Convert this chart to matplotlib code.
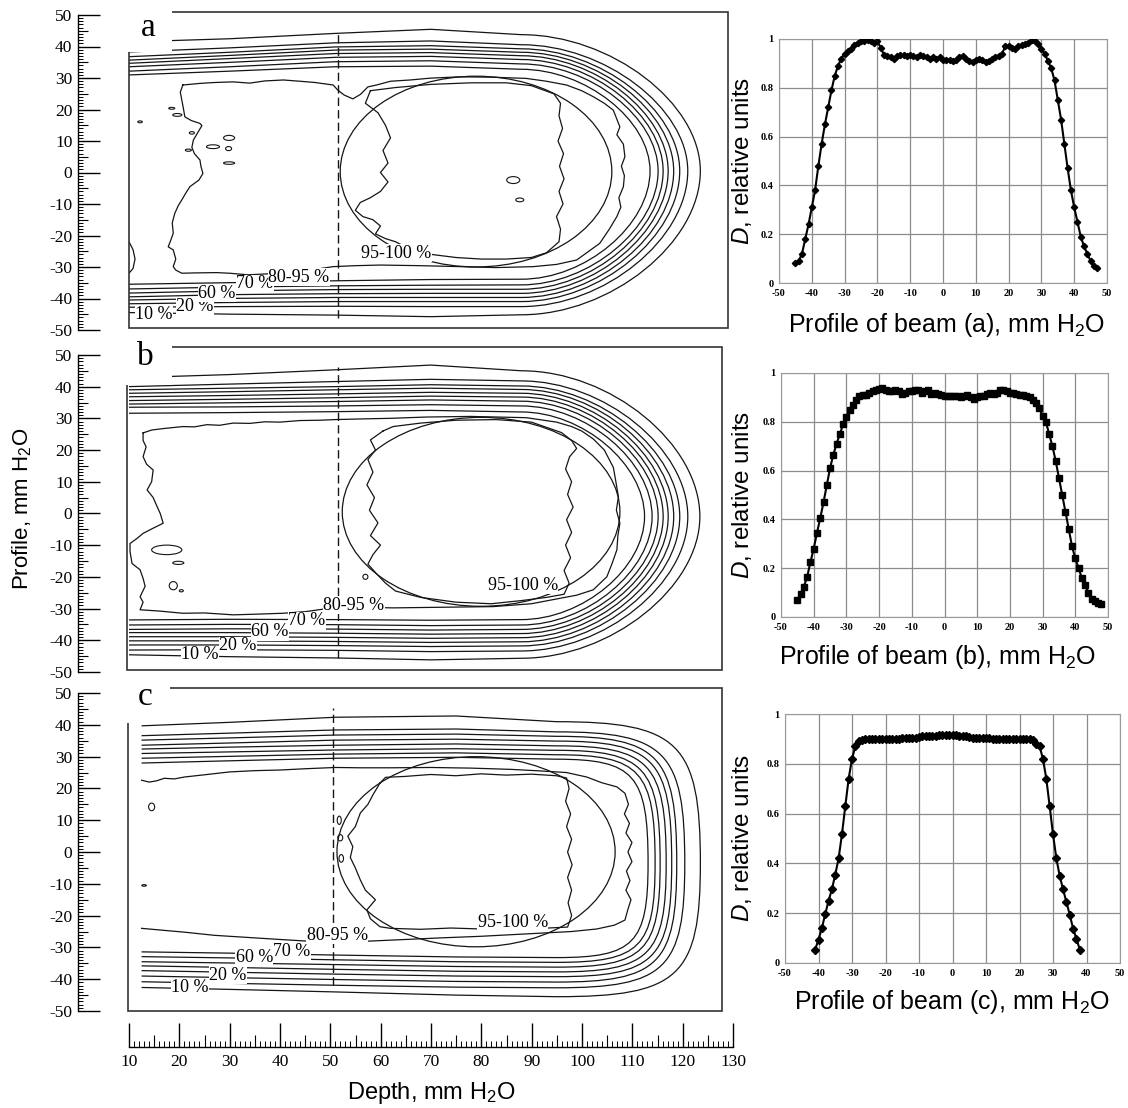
import numpy as np
import matplotlib
matplotlib.use("Agg")
import matplotlib.pyplot as plt
from matplotlib.path import Path
from matplotlib.patches import PathPatch, Ellipse, Rectangle
from matplotlib.ticker import MultipleLocator

plt.rcParams["font.family"] = "Liberation Sans"
plt.rcParams["mathtext.fontset"] = "custom"
plt.rcParams["mathtext.rm"] = "Liberation Sans"
plt.rcParams["mathtext.it"] = "Liberation Sans:italic"
plt.rcParams["axes.unicode_minus"] = False

SERIF = "Liberation Serif"
W, H = 1128, 1108

# ---------------- beam profiles (right column) ----------------
prof_a_x = np.arange(-45, 48)
prof_a_y = [0.08, 0.09, 0.12, 0.18, 0.24, 0.31, 0.38, 0.48, 0.57, 0.65,
            0.72, 0.79, 0.85, 0.89, 0.92, 0.94, 0.95, 0.96, 0.975, 0.985,
            0.99, 0.99, 0.995, 0.99, 0.985, 0.99, 0.965, 0.935, 0.93, 0.925,
            0.92, 0.93, 0.935, 0.935, 0.93, 0.935, 0.93, 0.925, 0.935, 0.93,
            0.925, 0.92, 0.925, 0.92, 0.925, 0.915, 0.915, 0.915, 0.91, 0.915,
            0.925, 0.93, 0.92, 0.91, 0.905, 0.915, 0.92, 0.915, 0.905, 0.91,
            0.92, 0.925, 0.93, 0.94, 0.97, 0.97, 0.965, 0.96, 0.97, 0.975,
            0.98, 0.985, 0.995, 0.99, 0.98, 0.96, 0.94, 0.91, 0.88, 0.83,
            0.75, 0.67, 0.57, 0.47, 0.38, 0.31, 0.25, 0.19, 0.15, 0.12,
            0.09, 0.07, 0.06]

prof_b_x = np.arange(-45, 49)
prof_b_y = [0.07, 0.095, 0.125, 0.165, 0.225, 0.28, 0.345, 0.405, 0.47, 0.54,
            0.61, 0.665, 0.71, 0.75, 0.79, 0.82, 0.85, 0.87, 0.89, 0.905,
            0.91, 0.91, 0.92, 0.925, 0.93, 0.935, 0.94, 0.93, 0.925, 0.925,
            0.93, 0.925, 0.915, 0.92, 0.925, 0.925, 0.93, 0.93, 0.92, 0.925,
            0.93, 0.915, 0.92, 0.915, 0.91, 0.905, 0.905, 0.905, 0.905, 0.905,
            0.90, 0.905, 0.91, 0.90, 0.895, 0.90, 0.905, 0.905, 0.915, 0.92,
            0.915, 0.92, 0.93, 0.93, 0.925, 0.92, 0.92, 0.915, 0.91, 0.91,
            0.905, 0.90, 0.89, 0.875, 0.855, 0.825, 0.80, 0.75, 0.70, 0.64,
            0.57, 0.50, 0.43, 0.36, 0.29, 0.24, 0.20, 0.16, 0.13, 0.10,
            0.075, 0.065, 0.058, 0.052]

prof_c_x = np.arange(-41, 39)
prof_c_y = [0.054, 0.094, 0.14, 0.196, 0.25, 0.296, 0.355, 0.42, 0.517, 0.63,
            0.74, 0.82, 0.87, 0.89, 0.895, 0.90, 0.90, 0.90, 0.90, 0.90,
            0.90, 0.90, 0.90, 0.90, 0.90, 0.90, 0.905, 0.905, 0.905, 0.905,
            0.905, 0.908, 0.91, 0.91, 0.91, 0.912, 0.912, 0.915, 0.915, 0.915,
            0.915, 0.915, 0.915, 0.912, 0.91, 0.91, 0.908, 0.905, 0.905, 0.905,
            0.905, 0.902, 0.902, 0.90, 0.90, 0.90, 0.90, 0.90, 0.90, 0.90,
            0.90, 0.90, 0.90, 0.90, 0.90, 0.895, 0.88, 0.87, 0.82, 0.74,
            0.63, 0.517, 0.42, 0.35, 0.296, 0.245, 0.194, 0.138, 0.097, 0.054]

prof_xticks = [-50, -40, -30, -20, -10, 0, 10, 20, 30, 40, 50]
prof_yticks = [0, 0.2, 0.4, 0.6, 0.8, 1.0]
prof_yticklabels = ["0", "0.2", "0.4", "0.6", "0.8", "1"]

# ---------------- isodose maps (left column) ----------------
# smooth isodose lines: profile (mm) of upper / lower edge at a few depths,
# then the depth and profile where each line turns round at the far end
a_stations = [10, 30, 51, 70, 88]
a_top = [[41.5, 42.5, 44.2, 45.5, 43.8],
         [38.3, 39.6, 41.2, 41.8, 40.6],
         [36.8, 38.2, 39.9, 40.3, 39.3],
         [35.7, 37.2, 38.9, 39.2, 38.2],
         [34.7, 36.2, 37.8, 38.1, 37.1],
         [33.6, 35.0, 36.6, 36.9, 35.9],
         [32.2, 33.6, 35.2, 35.5, 34.5],
         [31.0, 32.2, 33.6, 33.8, 32.8]]
a_bot = [[-44.5, -45.0, -45.3, -45.8, -45.2],
         [-42.8, -42.6, -42.5, -42.6, -42.6],
         [-41.7, -41.3, -41.0, -41.0, -41.0],
         [-40.5, -40.0, -39.7, -39.7, -39.7],
         [-39.5, -38.8, -38.5, -38.4, -38.4],
         [-38.3, -37.6, -37.2, -37.1, -37.1],
         [-37.0, -36.4, -36.0, -35.8, -35.7],
         [-35.5, -35.0, -34.4, -34.0, -33.9]]
a_tip_x = [123.6, 121.1, 119.5, 118.3, 117.2, 116.2, 115.2, 113.6]
a_tip_y = [0.5, 0.5, 0.5, 0.5, 0.5, 0.5, 0.5, 0.5]

b_stations = [10, 30, 51, 70, 88]
b_top = [[42.8, 43.8, 45.3, 46.8, 45.0],
         [40.0, 40.8, 41.6, 42.3, 41.8],
         [39.0, 39.5, 40.0, 40.6, 40.2],
         [37.9, 38.4, 39.0, 39.5, 39.1],
         [36.8, 37.2, 37.7, 38.2, 37.9],
         [35.6, 36.0, 36.5, 37.0, 36.7],
         [34.5, 34.9, 35.3, 35.8, 35.4],
         [33.5, 33.6, 33.9, 34.3, 33.9],
         [31.6, 31.8, 32.1, 32.5, 32.0]]
b_bot = [[-44.6, -45.2, -45.6, -46.2, -45.7],
         [-43.1, -43.0, -43.2, -43.6, -43.4],
         [-41.5, -41.5, -41.7, -42.0, -41.8],
         [-40.2, -40.2, -40.4, -40.7, -40.5],
         [-38.9, -38.9, -39.1, -39.4, -39.2],
         [-37.6, -37.6, -37.8, -38.1, -37.9],
         [-36.6, -36.4, -36.5, -36.8, -36.6],
         [-35.2, -35.0, -35.1, -35.4, -35.2],
         [-33.6, -33.4, -33.5, -33.7, -33.5]]
b_tip_x = [123.5, 121.1, 119.5, 118.3, 117.2, 116.2, 115.2, 114.0, 112.5]
b_tip_y = [-1.0, -1.0, -1.0, -1.0, -1.0, -1.0, -1.0, -1.0, -1.0]

c_stations = [12.5, 30, 51, 75, 95]
c_top = [[39.7, 40.8, 42.4, 42.8, 41.0],
         [36.6, 37.4, 38.4, 38.7, 37.8],
         [35.2, 35.9, 36.8, 37.1, 36.4],
         [33.6, 34.3, 35.2, 35.5, 34.9],
         [32.4, 33.0, 33.6, 34.0, 33.4],
         [31.0, 31.5, 32.1, 32.5, 32.0],
         [29.5, 30.1, 30.8, 31.2, 30.6],
         [28.0, 28.7, 29.5, 29.8, 29.2]]
c_bot = [[-42.6, -43.2, -44.0, -45.0, -45.5],
         [-40.8, -41.3, -41.9, -42.5, -42.7],
         [-39.0, -39.5, -40.1, -40.7, -40.9],
         [-37.3, -37.8, -38.4, -39.0, -39.2],
         [-35.8, -36.3, -36.9, -37.5, -37.7],
         [-34.5, -34.9, -35.4, -36.0, -36.2],
         [-32.9, -33.3, -33.9, -34.5, -34.7],
         [-31.4, -31.8, -32.4, -33.0, -33.2]]
c_tip_x = [123.6, 120.5, 118.9, 117.9, 116.8, 115.6, 114.6, 113.2]
c_tip_y = [-3.5, -3.5, -3.5, -3.5, -3.5, -3.5, -3.5, -3.5]

# irregular high-dose isodoses (depth, profile)
a_outer = [(20.7, 27.8), (24, 28.3), (27, 28.6), (30.7, 28.8), (34, 28.4), (37, 29.1),
           (40.7, 29.4), (44, 29.0), (47, 28.6), (50.6, 27.8), (51.5, 26.2), (52.8, 24.6),
           (54.5, 23.4), (56.0, 24.8), (57.5, 27.2), (59.2, 27.8), (62, 29.0), (65.9, 29.4),
           (70, 30.0), (75.8, 30.4), (82, 30.3), (89, 29.9), (93, 29.0), (97, 27.8),
           (100, 26.0), (102.3, 24.1), (104.5, 22.0), (106.3, 19.8), (107.6, 14.5),
           (107.0, 12.0), (108.3, 9.0), (108.6, 5.0), (107.9, 2.0), (108.5, -1.0),
           (108.3, -4.5), (107.4, -8.0), (107.8, -11.0), (107.0, -14.0), (105.5, -18.0),
           (103.6, -22.5), (101, -25.5), (99, -27.8), (95, -29.2), (90.4, -29.9),
           (83, -30.2), (75.8, -29.9), (68, -29.6), (60, -29.4), (55, -29.6), (50.6, -29.9),
           (46, -31.0), (40, -32.0), (33.7, -32.5), (30, -32.0), (27.4, -31.8), (23, -31.9),
           (20.5, -32.0), (19.3, -31.0), (18.8, -29.9), (19.3, -27.5), (18.8, -24.6),
           (17.8, -23.6), (18.3, -21.5), (18.8, -19.3), (18.6, -16.0), (19.1, -13.0),
           (19.8, -10.5), (20.5, -8.7), (21.3, -6.5), (22.1, -4.5), (23.9, -2.4),
           (24.7, -0.3), (24.3, 2.0), (24.1, 4.0), (23.0, 6.0), (22.5, 8.0), (22.8, 10.3),
           (23.6, 12.5), (24.5, 14.9), (24.1, 15.6), (22.4, 16.5), (21.1, 17.7),
           (20.8, 20.5), (20.5, 23.0), (20.2, 25.5), (20.7, 27.8)]
a_inner = [(58, 26), (57, 22), (59.5, 19), (61, 15), (62, 11), (60.5, 7), (61.5, 3),
           (60, 0), (61.5, -3), (60, -6), (58, -8), (56, -9.5), (55, -12), (56.5, -14),
           (58.5, -15), (60, -17), (59, -19.5), (61, -21), (63, -22), (66, -24.5),
           (70, -26), (75, -27), (80, -27.5), (85, -27.5), (90, -27), (93, -25.5),
           (95.5, -22), (95.8, -18), (95, -14), (96.3, -10), (95.5, -6), (96.5, -2),
           (95.6, 2), (96.4, 6), (95.3, 10), (96.2, 14), (95.5, 18), (95.8, 22),
           (94.5, 25), (90, 27.6), (85, 28.5), (78, 28.5), (70, 28), (63, 27), (58, 26)]
a_edge = [(10.0, -22.0), (10.8, -24.5), (11.2, -27.5), (10.8, -30.5), (10.0, -32.0)]
a_islands = [(18.5, 20.4, 1.2, 0.6), (19.6, 18.3, 1.8, 0.9), (22.5, 12.6, 1.0, 0.8),
             (21.8, 7.1, 1.2, 0.7), (26.7, 8.2, 2.6, 1.2), (29.9, 11.0, 2.2, 1.6),
             (29.8, 7.6, 1.2, 1.3), (29.9, 3.0, 2.2, 0.8), (12.2, 16.1, 0.9, 0.6),
             (86.4, -2.4, 2.6, 2.2), (87.7, -8.7, 1.6, 1.2)]

b_outer = [(12.8, 25.4), (14.5, 26.3), (17, 26.8), (20.7, 27.4), (23, 27.3), (25.5, 28.0),
           (28, 27.8), (30.7, 28.5), (34, 28.4), (37, 28.9), (40, 28.8), (44, 29.3),
           (48, 29.4), (51, 29.6), (56, 29.8), (62, 30.0), (69, 30.4), (77.8, 30.6),
           (89, 30.2), (95, 28.8), (98, 27.4), (100, 26.0), (102.3, 23.5), (104.5, 20.0),
           (106.3, 14.5), (106.8, 10.0), (107.3, 5.3), (106.9, 1.0), (107.6, -3.1),
           (107.2, -7.0), (107.0, -11.5), (106.0, -16.0), (105.0, -20.0), (102.3, -24.1),
           (99, -25.8), (96.3, -26.6), (90, -28.5), (82.4, -29.4), (72.5, -29.6),
           (62.6, -29.8), (55, -29.6), (50, -29.9), (45, -31.0), (40.6, -31.5),
           (35, -31.8), (30.7, -32.0), (25, -31.4), (20.7, -31.5), (16, -30.8),
           (12.2, -30.4), (12.8, -28.0), (12.2, -26.3), (13.2, -23.0), (12.8, -20.5),
           (12.2, -17.8), (10.6, -15.8), (10.2, -12.0), (10.2, -9.5), (11.5, -8.0),
           (12.8, -6.3), (15.0, -4.5), (16.8, -3.1), (16.2, 0.0), (15.6, 2.1),
           (14.8, 5.0), (13.6, 7.4), (14.5, 10.0), (14.8, 13.7), (13.5, 15.5),
           (12.8, 17.9), (13.4, 21.0), (12.8, 23.0), (12.8, 25.4)]
b_inner = [(60.5, 26), (58, 23.2), (59, 20), (57.5, 17), (58.5, 13), (57.3, 9),
           (58.8, 5), (57.8, 1), (59.5, -3), (58, -7), (60, -10), (58.5, -13),
           (57.5, -16), (59.2, -19), (61, -22), (63, -24.5), (68, -26.5), (75, -28),
           (82, -28.5), (88, -27.5), (93, -26.5), (96.5, -25.5), (97.5, -22),
           (96.5, -18), (97.8, -14), (96.8, -10), (98, -6), (97, -2), (98.3, 2),
           (97.2, 6), (98, 10), (96.8, 14), (97.6, 17.9), (99, 20.5), (98, 23),
           (96, 25.5), (90, 28.8), (83, 29.6), (75, 29.4), (68, 28.5), (62.5, 27.4),
           (60.5, 26)]
b_edge = []
b_islands = [(17.5, -11.5, 6.0, 3.0), (19.8, -15.6, 2.2, 1.0), (18.8, -22.8, 1.6, 2.6),
             (20.4, -24.4, 0.8, 0.7), (57.0, -20.0, 1.0, 1.6)]

c_outer = [(12.5, 22.6), (14, 22.0), (15.5, 22.4), (17, 23.2), (19, 23.0), (21, 23.6),
           (25, 24.3), (30, 25.2), (35, 25.6), (40, 25.8), (45, 26.2), (51, 26.6),
           (56, 26.5), (62, 26.5), (70, 26.6), (78, 26.4), (86, 26.0), (92, 25.5),
           (97, 25.0), (101, 23.6), (104, 21.8), (107, 20.5), (108.6, 18.5), (109.3, 15),
           (108.5, 12), (109.5, 9), (108.8, 6), (110, 3), (109.2, 0), (110, -3),
           (108.9, -6), (109.6, -9), (108.8, -12), (109.8, -15), (109.2, -18),
           (108.6, -21.4), (106.5, -23), (103, -24.2), (98, -25), (92, -25.5),
           (86, -26.0), (80, -26.5), (72, -27.0), (65, -27.5), (58, -28.0), (51, -28.2),
           (47.3, -28.2), (40, -27.5), (33, -26.8), (27, -26.2), (21, -25.2),
           (16, -24.5), (12.5, -24.0)]
c_inner = [(59.9, 21.7), (61, 23.5), (65, 23.8), (70, 24.4), (75, 24.0), (80, 24.6),
           (85, 24.2), (90, 24.5), (95, 24.0), (97, 23.3), (97.5, 20), (96.8, 16),
           (97.8, 12), (97, 8), (98, 4), (97.2, 0), (98.1, -4), (97.2, -8), (98, -12),
           (97.3, -16), (98, -20), (97.2, -23.6), (92, -24), (86, -23.8), (80, -24.2),
           (74, -23.9), (68, -24.3), (62, -24), (59.9, -23.5), (58, -21), (57.3, -18.2),
           (59, -15), (57, -12), (56, -8.8), (55, -5), (54, -1.7), (54.5, 1.7),
           (53.5, 5), (55, 8), (56, 12.3), (57.5, 15), (58.5, 18), (59.9, 21.7)]
c_edge = []
c_islands = [(14.5, 14.2, 1.2, 2.4), (13.0, -10.5, 0.9, 0.5), (51.8, 10.0, 0.8, 2.6),
             (52.0, 4.5, 1.0, 2.0), (52.2, -2.0, 0.9, 2.4)]

# target ellipse: centre depth, centre profile, width, height
a_target = (79.0, 0.3, 54.0, 60.6)
b_target = (80.0, 0.5, 55.2, 59.6)
c_target = (79.0, 0.1, 55.3, 59.8)

# dashed line: depth, lower and upper profile
a_dash = (51.5, -46.3, 44.5)
b_dash = (51.5, -45.6, 46.2)
c_dash = (50.6, -41.8, 45.3)

# isodose labels: text, depth, profile
a_labels = [("10 %", 15.0, -45.2), ("20 %", 23.1, -42.7), ("60 %", 27.5, -38.3),
            ("70 %", 35.0, -35.4), ("80-95 %", 43.8, -33.2), ("95-100 %", 63.1, -25.6)]
b_labels = [("10 %", 24.1, -44.6), ("20 %", 31.7, -41.8), ("60 %", 38.0, -37.4),
            ("70 %", 45.4, -33.9), ("80-95 %", 54.7, -28.9), ("95-100 %", 88.3, -22.6)]
c_labels = [("10 %", 22.1, -42.5), ("20 %", 29.7, -38.7), ("60 %", 34.9, -33.3),
            ("70 %", 42.4, -31.4), ("80-95 %", 51.4, -26.1), ("95-100 %", 86.3, -22.3)]

ruler_y_mid = [-45, -35, -25, -15, -5, 5, 15, 25, 35, 45]
ruler_x_mid = [15, 25, 35, 45, 55, 65, 75, 85, 95, 105, 115, 125]


def px_rect(left, top, right, bottom):
    return [left / W, 1 - bottom / H, (right - left) / W, (bottom - top) / H]


def iso_path(stations, top, bot, tip_x, tip_y, k):
    # upper edge, rounded far end (two cubic curves), lower edge back
    verts = list(zip(stations, top))
    codes = [Path.MOVETO] + [Path.LINETO] * (len(stations) - 1)
    x0, y0 = stations[-1], top[-1]
    x1, y1 = stations[-1], bot[-1]
    verts += [(x0 + k * (tip_x - x0), y0), (tip_x, tip_y + k * (y0 - tip_y)), (tip_x, tip_y),
              (tip_x, tip_y + k * (y1 - tip_y)), (x1 + k * (tip_x - x1), y1), (x1, y1)]
    codes += [Path.CURVE4] * 6
    verts += list(zip(stations[-2::-1], bot[-2::-1]))
    codes += [Path.LINETO] * (len(stations) - 1)
    return Path(verts, codes)


def iso_panel(fig, rect, xlim, ylim, stations, top, bot, tip_x, tip_y, k,
              outer, inner, edge, islands, target, dash, labels, letter, corner):
    ax = fig.add_axes(rect)
    ax.set_xlim(*xlim)
    ax.set_ylim(*ylim)
    ax.axis("off")
    lw = 0.9
    col = "#151515"

    for t, b, tx, ty in zip(top, bot, tip_x, tip_y):
        ax.add_patch(PathPatch(iso_path(stations, t, b, tx, ty, k),
                               fill=False, ec=col, lw=lw))
    for line in (outer, inner, edge):
        if line:
            xs, ys = zip(*line)
            ax.plot(xs, ys, color=col, lw=lw)
    for cx, cy, w, h in islands:
        ax.add_patch(Ellipse((cx, cy), w, h, fill=False, ec=col, lw=0.8))

    cx, cy, w, h = target
    ax.add_patch(Ellipse((cx, cy), w, h, fill=False, ec=col, lw=lw))
    ax.plot([dash[0], dash[0]], [dash[1], dash[2]], color=col, lw=1.0,
            ls=(0, (6, 3)))

    for txt, x, y in labels:
        ax.text(x, y, txt, fontfamily=SERIF, fontsize=13, ha="center", va="center",
                zorder=5, bbox=dict(fc="white", ec="none", pad=0.2))

    # frame, with the top-left corner blanked out for the panel letter
    ax.add_patch(Rectangle((0, 0), 1, 1, transform=ax.transAxes, fill=False,
                           ec="#333333", lw=1.2, clip_on=False, zorder=3))
    cx_right, cy_bottom = corner
    ax.add_patch(Rectangle((xlim[0] - 3, cy_bottom), cx_right - xlim[0] + 3,
                           ylim[1] - cy_bottom + 3, fc="white", ec="none",
                           clip_on=False, zorder=4))
    ax.text(letter[1], letter[2], letter[0], fontfamily=SERIF, fontsize=24,
            ha="center", va="baseline", zorder=6)
    return ax


def left_ruler(fig, top_px, bottom_px):
    rax = fig.add_axes(px_rect(78, top_px, 100, bottom_px))
    rax.set_ylim(-50, 50)
    rax.set_xlim(0, 1)
    rax.patch.set_alpha(0)
    for side in ["top", "right", "bottom"]:
        rax.spines[side].set_visible(False)
    rax.spines["left"].set_linewidth(1.0)
    rax.set_xticks([])
    rax.yaxis.set_major_locator(MultipleLocator(10))
    rax.yaxis.set_minor_locator(MultipleLocator(1))
    rax.tick_params(axis="y", which="major", direction="in", length=15.8, width=1.0,
                    labelsize=12.5, pad=4)
    rax.tick_params(axis="y", which="minor", direction="in", length=3.6, width=0.7)
    rax.hlines(ruler_y_mid, 0, 10 / 22, color="black", lw=0.8)
    for lbl in rax.get_yticklabels():
        lbl.set_fontfamily(SERIF)


def bottom_ruler(fig):
    bax = fig.add_axes(px_rect(129, 1017, 733, 1047))
    bax.set_xlim(10, 130)
    bax.set_ylim(0, 1)
    bax.patch.set_alpha(0)
    for side in ["top", "right", "left"]:
        bax.spines[side].set_visible(False)
    bax.spines["bottom"].set_linewidth(1.0)
    bax.set_yticks([])
    bax.xaxis.set_major_locator(MultipleLocator(10))
    bax.xaxis.set_minor_locator(MultipleLocator(1))
    bax.tick_params(axis="x", which="major", direction="in", length=17.3, width=1.0,
                    labelsize=12.5, pad=5)
    bax.tick_params(axis="x", which="minor", direction="in", length=4.3, width=0.7)
    bax.vlines(ruler_x_mid, 0, 12 / 30, color="black", lw=0.8)
    for lbl in bax.get_xticklabels():
        lbl.set_fontfamily(SERIF)


def profile_panel(fig, rect, x, y, marker, ms):
    ax = fig.add_axes(rect)
    ax.plot(x, y, color="black", lw=1.5, marker=marker, ms=ms, zorder=3)
    ax.set_xlim(-50, 50)
    ax.set_ylim(0, 1)
    ax.set_xticks(prof_xticks)
    ax.set_yticks(prof_yticks)
    ax.set_yticklabels(prof_yticklabels)
    ax.grid(True, color="#8c8c8c", lw=0.9)
    ax.set_axisbelow(True)
    for s in ax.spines.values():
        s.set_color("#9a9a9a")
        s.set_linewidth(0.8)
    ax.tick_params(length=0, pad=4, labelsize=7.5)
    for lbl in ax.get_xticklabels() + ax.get_yticklabels():
        lbl.set_fontfamily(SERIF)
        lbl.set_fontweight("bold")
    return ax


fig = plt.figure(figsize=(W / 100, H / 100), dpi=100)

iso_panel(fig, px_rect(129, 12, 728, 328), (10, 129.1), (-49.4, 51.0),
          a_stations, a_top, a_bot, a_tip_x, a_tip_y, 0.5,
          a_outer, a_inner, a_edge, a_islands, a_target, a_dash, a_labels,
          ("a", 13.9, 43.3), (18.5, 38.3))
iso_panel(fig, px_rect(127, 347, 722, 670), (9.6, 127.9), (-49.4, 52.5),
          b_stations, b_top, b_bot, b_tip_x, b_tip_y, 0.5,
          b_outer, b_inner, b_edge, b_islands, b_target, b_dash, b_labels,
          ("b", 13.2, 46.8), (18.5, 40.5))
iso_panel(fig, px_rect(128, 688, 722, 1011), (9.8, 127.9), (-50.0, 51.6),
          c_stations, c_top, c_bot, c_tip_x, c_tip_y, 0.85,
          c_outer, c_inner, c_edge, c_islands, c_target, c_dash, c_labels,
          ("c", 13.3, 46.2), (18.2, 40.6))

left_ruler(fig, 15, 330)
left_ruler(fig, 355, 672)
left_ruler(fig, 693, 1011)
bottom_ruler(fig)

fig.text(22 / W, 1 - 509 / H, "Profile, mm H$_2$O", rotation=90,
         ha="center", va="center", fontsize=16)
fig.text(431 / W, 1 - 1093 / H, "Depth, mm H$_2$O", ha="center", va="center",
         fontsize=17)

profile_panel(fig, px_rect(779, 39, 1107, 283), prof_a_x, prof_a_y, "D", 3.2)
profile_panel(fig, px_rect(781, 373, 1108, 617), prof_b_x, prof_b_y, "s", 4.2)
profile_panel(fig, px_rect(785, 714, 1120, 963), prof_c_x, prof_c_y, "D", 4.3)

for name, xc, yc in [("a", 947, 325), ("b", 938, 657), ("c", 952, 1002)]:
    fig.text(xc / W, 1 - yc / H, f"Profile of beam ({name}), mm H$_2$O",
             ha="center", va="center", fontsize=18)
for yc in [161, 495, 838]:
    fig.text(742 / W, 1 - yc / H, "$D$, relative units", rotation=90,
             ha="center", va="center", fontsize=17.5)

fig.savefig("out.png", dpi=100)
